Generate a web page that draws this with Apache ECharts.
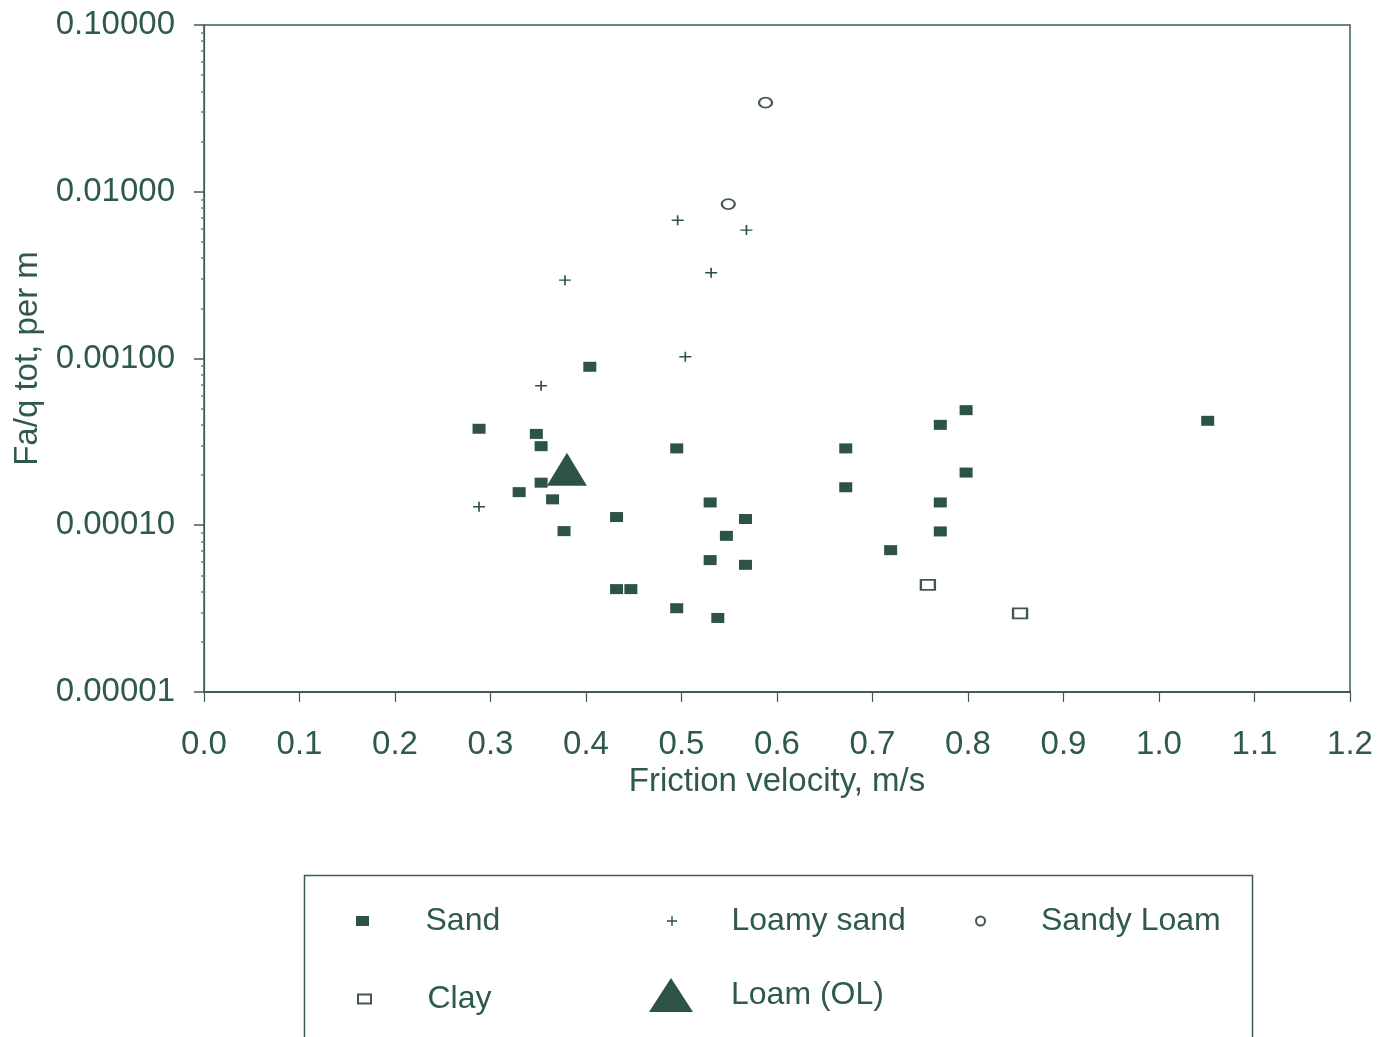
<!DOCTYPE html>
<html>
<head>
<meta charset="utf-8">
<script src="https://cdn.jsdelivr.net/npm/echarts@6/dist/echarts.min.js"></script>
<style>
html,body{margin:0;padding:0;background:#ffffff;}
#chart{width:1387px;height:1037px;}
</style>
</head>
<body>
<div id="chart"></div>
<script>
// ---- Data ----
const sandX = [0.404, 0.288, 0.348, 0.353, 0.495, 0.353, 0.330, 0.365, 0.432, 0.530, 0.567, 0.547, 0.377, 0.530, 0.567, 0.432, 0.447, 0.495, 0.538, 0.798, 0.771, 0.672, 0.798, 0.672, 0.771, 0.771, 0.719, 1.051];
const sandY = [0.000892, 0.000379, 0.000353, 0.000298, 0.000289, 0.000180, 0.000158, 0.000143, 0.000112, 0.000137, 0.000109, 0.0000864, 0.0000922, 0.0000618, 0.0000579, 0.0000414, 0.0000414, 0.0000318, 0.0000278, 0.000490, 0.000400, 0.000289, 0.000207, 0.000169, 0.000137, 0.0000918, 0.0000709, 0.000423];
const loamySandX = [0.496, 0.568, 0.378, 0.531, 0.504, 0.353, 0.288];
const loamySandY = [0.00674, 0.00589, 0.00295, 0.00327, 0.001024, 0.000686, 0.000129];
const sandyLoamX = [0.588, 0.549];
const sandyLoamY = [0.0342, 0.00844];
const clayX = [0.758, 0.8545];
const clayY = [0.0000439, 0.0000296];
const loamX = [0.380];
const loamY = [0.000217];

const seriesNames = ['Sand', 'Loamy sand', 'Sandy Loam', 'Clay', 'Loam (OL)'];
const yMinorTicks = [
  0.00002, 0.00003, 0.00004, 0.00005, 0.00006, 0.00007, 0.00008, 0.00009,
  0.0002, 0.0003, 0.0004, 0.0005, 0.0006, 0.0007, 0.0008, 0.0009,
  0.002, 0.003, 0.004, 0.005, 0.006, 0.007, 0.008, 0.009,
  0.02, 0.03, 0.04, 0.05, 0.06, 0.07, 0.08, 0.09
];
const xAxisTitle = 'Friction velocity, m/s';
const yAxisTitle = 'Fa/q tot, per m';

// ---- Styling ----
const INK = '#2c5343';
const TEXT = '#2f5a48';
const LINE = '#3e5d50';
const HOLLOW = '#44574f';
const FONT = '"Liberation Sans", Arial, sans-serif';
const CROSS = 'path://M43,0H57V43H100V57H57V100H43V57H0V43H43Z';

function pairs(xs, ys) { return xs.map((x, i) => [x, ys[i]]); }

const chart = echarts.init(document.getElementById('chart'), null, {renderer: 'canvas'});

function legendItem(name, left, top, w, h, pad) {
  return {
    data: [name],
    left: left, top: top,
    orient: 'horizontal',
    itemWidth: w, itemHeight: h,
    selectedMode: false,
    padding: 0,
    textStyle: {fontFamily: FONT, fontSize: 32, color: TEXT, padding: [0, 0, 0, pad]}
  };
}

const option = {
  backgroundColor: '#ffffff',
  animation: false,
  textStyle: {fontFamily: FONT},
  grid: {
    left: 204, right: 37, top: 25, bottom: 345,
    show: true, borderColor: LINE, borderWidth: 1.5, backgroundColor: 'transparent'
  },
  xAxis: {
    type: 'value', min: 0, max: 1.2, interval: 0.1,
    name: xAxisTitle, nameLocation: 'middle', nameGap: 73,
    nameTextStyle: {fontFamily: FONT, fontSize: 33, color: TEXT},
    axisLine: {show: true, onZero: false, lineStyle: {color: LINE, width: 2}},
    axisTick: {show: true, inside: false, length: 10, lineStyle: {color: LINE, width: 1.2}},
    axisLabel: {fontFamily: FONT, fontSize: 33, color: TEXT, margin: 36,
      formatter: v => v.toFixed(1)},
    splitLine: {show: false}
  },
  yAxis: [{
    type: 'log', logBase: 10, min: 0.00001, max: 0.1,
    name: yAxisTitle, nameLocation: 'middle', nameGap: 160, nameRotate: 90,
    nameTextStyle: {fontFamily: FONT, fontSize: 33, color: TEXT},
    axisLine: {show: true, lineStyle: {color: LINE, width: 1.2}},
    axisTick: {show: true, inside: false, length: 10, lineStyle: {color: LINE, width: 1.5}},
    axisLabel: {fontFamily: FONT, fontSize: 33, color: TEXT, margin: 29,
      formatter: v => Number(v).toFixed(5)},
    splitLine: {show: false}
  }, {
    type: 'log', logBase: 10, min: 0.00001, max: 0.1, position: 'left',
    axisLine: {show: false},
    axisLabel: {show: false},
    splitLine: {show: false},
    axisTick: {show: true, inside: false, length: 3, customValues: yMinorTicks,
      lineStyle: {color: '#6a7d74', width: 1.5}}
  }],
  legend: [
    legendItem('Sand', 356, 905, 13, 10, 51.5),
    legendItem('Loamy sand', 667, 905, 11, 10, 49),
    legendItem('Sandy Loam', 975, 905, 11, 9, 50),
    legendItem('Clay', 357, 983, 13, 9, 51.5),
    legendItem('Loam (OL)', 649, 978, 44, 34, 33)
  ],
  graphic: [{
    type: 'rect', left: 302, top: 873,
    shape: {width: 948, height: 220},
    style: {fill: 'none', stroke: LINE, lineWidth: 1.5},
    silent: true
  }],
  series: [{
    name: 'Sand', type: 'scatter', yAxisIndex: 0,
    symbol: 'rect', symbolSize: [13, 10],
    itemStyle: {color: INK, opacity: 1},
    data: pairs(sandX, sandY), z: 3
  }, {
    name: 'Loamy sand', type: 'scatter', yAxisIndex: 0,
    symbol: CROSS, symbolSize: [12, 10], symbolKeepAspect: false,
    itemStyle: {color: INK, opacity: 1},
    data: pairs(loamySandX, loamySandY), z: 3
  }, {
    name: 'Sandy Loam', type: 'scatter', yAxisIndex: 0,
    symbol: 'emptyCircle', symbolSize: [13, 10],
    itemStyle: {color: HOLLOW, borderWidth: 1.5, opacity: 1},
    data: pairs(sandyLoamX, sandyLoamY), z: 3
  }, {
    name: 'Clay', type: 'scatter', yAxisIndex: 0,
    symbol: 'emptyRect', symbolSize: [14, 10],
    itemStyle: {color: HOLLOW, borderWidth: 1.5, opacity: 1},
    data: pairs(clayX, clayY), z: 3
  }, {
    name: 'Loam (OL)', type: 'scatter', yAxisIndex: 0,
    symbol: 'triangle', symbolSize: [40, 33],
    itemStyle: {color: INK, opacity: 1},
    data: pairs(loamX, loamY), z: 4
  }]
};

chart.setOption(option);
</script>
</body>
</html>
